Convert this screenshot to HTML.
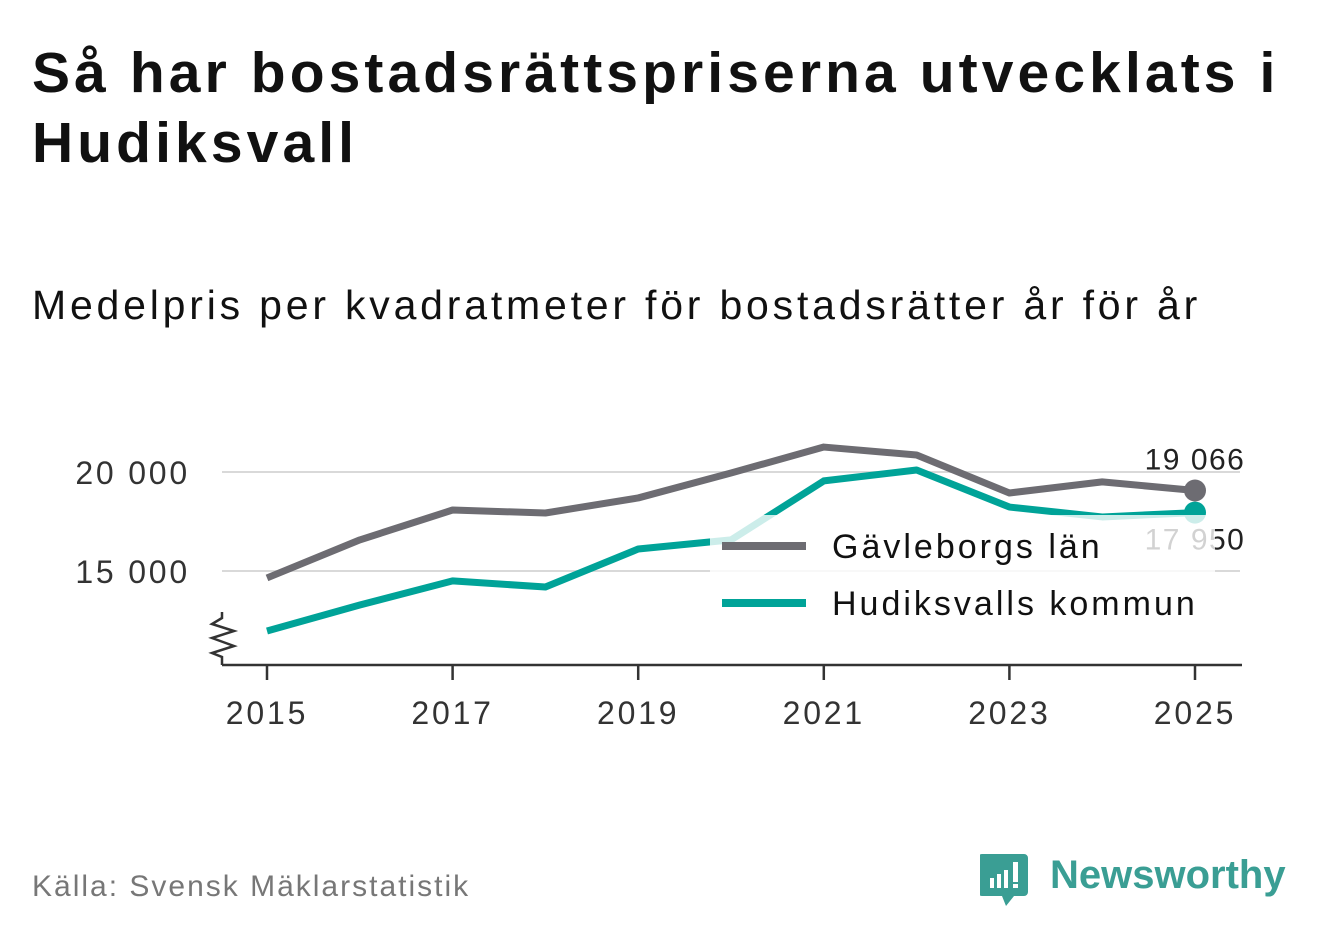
<!DOCTYPE html>
<html><head><meta charset="utf-8">
<style>
body{margin:0;background:#fff;width:1322px;height:939px;overflow:hidden;font-family:"Liberation Sans",sans-serif;}
#title{position:absolute;left:32px;top:38px;font-size:57px;font-weight:bold;color:#111;line-height:70px;margin:0;letter-spacing:4.1px}
#sub{position:absolute;left:32px;top:282px;font-size:41px;color:#111;margin:0;letter-spacing:3.8px}
#src{position:absolute;left:32px;top:870px;font-size:30px;color:#777;letter-spacing:2px}
#logo{position:absolute;left:980px;top:850px}
</style></head><body>
<h1 id="title">Så har bostadsrättspriserna utvecklats i<br>Hudiksvall</h1>
<p id="sub">Medelpris per kvadratmeter för bostadsrätter år för år</p>
<svg id="chart" width="1322" height="939" style="position:absolute;left:0;top:0"></svg>
<div id="src">Källa: Svensk Mäklarstatistik</div>
<svg id="logo" width="320" height="62">
<path d="M2 4 h42 a4 4 0 0 1 4 4 v34 a4 4 0 0 1 -4 4 h-10 l-8 10 l-4 -10 h-20 a4 4 0 0 1 -4 -4 v-34 a4 4 0 0 1 4 -4z" fill="#3a9e94"/>
<rect x="10" y="28" width="4" height="10" fill="#fff"/><rect x="17" y="24" width="4" height="14" fill="#fff"/><rect x="24" y="20" width="4" height="18" fill="#fff"/><rect x="33" y="12" width="5" height="20" fill="#fff"/><rect x="33" y="34" width="5" height="4" fill="#fff"/>
<text x="70" y="38" font-size="40" font-weight="bold" fill="#3a9e94" font-family="Liberation Sans, sans-serif">Newsworthy</text>
</svg>
<script>
const years=[2015,2016,2017,2018,2019,2020,2021,2022,2023,2024,2025];
const gavle=[14650,16570,18080,17930,18690,19950,21260,20860,18940,19500,19066];
const hudik=[11970,13280,14500,14190,16110,16570,19550,20100,18230,17730,17950];
const yTicks=[15000,20000];
const yTickLabels=["15 000","20 000"];
const xTicks=[2015,2017,2019,2021,2023,2025];
const NS="http://www.w3.org/2000/svg";
const svg=document.getElementById('chart');
const X=y=>267+(y-2015)*92.8;
const Y=v=>472-(v-20000)*0.0198;
function mk(t,a,p){const e=document.createElementNS(NS,t);for(const k in a)e.setAttribute(k,a[k]);(p||svg).appendChild(e);return e;}
yTicks.forEach((v,i)=>{
 const l=mk('line',{x1:222,x2:1240,y1:Y(v),y2:Y(v),stroke:'#d9d9d9','stroke-width':2});
 
 
 const t=mk('text',{x:190,y:Y(v)+12,'text-anchor':'end','font-size':32,fill:'#333','letter-spacing':2.8});
 t.textContent=yTickLabels[i];
 
 
});
const ax=mk('line',{x1:222,x2:1242,y1:665,y2:665,stroke:'#333','stroke-width':2.5});


const br=mk('polyline',{points:'222,612 222,618 212,624 234,631 212,638 234,646 212,653 222,657 222,665',fill:'none',stroke:'#333','stroke-width':2.5});


xTicks.forEach(y=>{
 const l=mk('line',{x1:X(y),x2:X(y),y1:665,y2:680,stroke:'#333','stroke-width':2.5});
 
 
 const t=mk('text',{x:X(y),y:724,'text-anchor':'middle','font-size':32,fill:'#333','letter-spacing':2.8});
 t.textContent=y;
 
 
});
function series(vals,color,name){
 const p=mk('polyline',{points:vals.map((v,i)=>X(years[i])+','+Y(v)).join(' '),fill:'none',stroke:color,'stroke-width':7,'stroke-linejoin':'round'});
 
 
 const n=vals.length-1;
 const c=mk('circle',{cx:X(years[n]),cy:Y(vals[n]),r:11,fill:color});
 
 
}
series(gavle,'#6d6c72','gavleborg');
series(hudik,'#00a398','hudiksvall');
const lt1=mk('text',{x:1195,y:Y(gavle[10])-21,'text-anchor':'middle','font-size':30,fill:'#222','letter-spacing':1.5});
lt1.textContent='19 066';


const lt2=mk('text',{x:1195,y:Y(hudik[10])+37,'text-anchor':'middle','font-size':30,fill:'#222','letter-spacing':1.5});
lt2.textContent='17 950';


const g=mk('g',{});


mk('rect',{x:710,y:515,width:505,height:118,fill:'#fff','fill-opacity':0.8},g);
const le=[['Gävleborgs län','#6d6c72',546],['Hudiksvalls kommun','#00a398',603]];
le.forEach(([t,c,y])=>{
 const l=mk('line',{x1:722,x2:806,y1:y,y2:y,stroke:c,'stroke-width':8},g);
 
 
 const tx=mk('text',{x:832,y:y+12,'font-size':34,fill:'#111','letter-spacing':3},g);
 tx.textContent=t;
 
 
});
</script>
</body></html>
